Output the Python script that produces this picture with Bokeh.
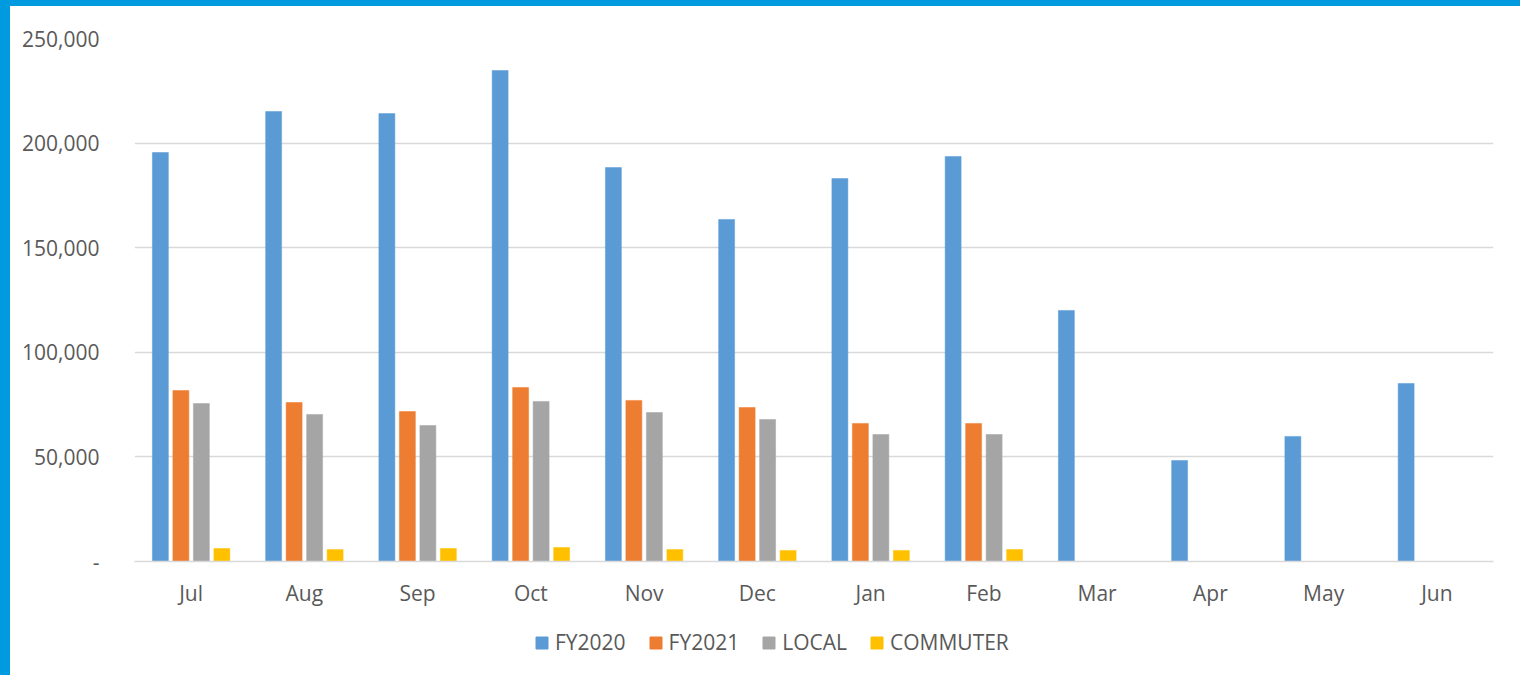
from bokeh.plotting import figure
from bokeh.models import ColumnDataSource, FactorRange, Legend, LegendItem, FixedTicker, Div, Range1d
from bokeh.layouts import column, row
from bokeh.transform import dodge
from bokeh.embed import file_html
from bokeh.resources import INLINE

months = ["Jul", "Aug", "Sep", "Oct", "Nov", "Dec", "Jan", "Feb", "Mar", "Apr", "May", "Jun"]
fy2020 = [195500, 215100, 214100, 234700, 188300, 163500, 183100, 193600, 120000, 48300, 59800, 85100]
fy2021 = [81700, 76000, 71700, 83200, 77000, 73600, 66000, 66000, 0, 0, 0, 0]
local = [75500, 70300, 65000, 76500, 71200, 67900, 60700, 60700, 0, 0, 0, 0]
commuter = [6200, 5700, 6200, 6700, 5700, 5300, 5300, 5700, 0, 0, 0, 0]
series_names = ["FY2020", "FY2021", "LOCAL", "COMMUTER"]
series_colors = ["#5B9BD5", "#ED7D31", "#A5A5A5", "#FFC000"]
y_ticks = [0, 50000, 100000, 150000, 200000, 250000]
y_tick_labels = ["-", "50,000", "100,000", "150,000", "200,000", "250,000"]

src = ColumnDataSource(dict(month=months, FY2020=fy2020, FY2021=fy2021, LOCAL=local, COMMUTER=commuter))

FONT = "Open Sans"
TXT = "#595959"
BLUE = "#009BDE"

p = figure(width=1510, height=609, x_range=FactorRange(*months, range_padding=0),
           y_range=(0, 250000), output_backend="svg", toolbar_location=None,
           min_border_left=124, min_border_right=27, min_border_top=32, min_border_bottom=54)
p.outline_line_color = None

offsets = [-0.2715, -0.0905, 0.0905, 0.2715]
for name, color, off in zip(series_names, series_colors, offsets):
    p.vbar(x=dodge("month", off, range=p.x_range), top=name, width=0.141, source=src,
           fill_color=color, line_color=color, line_width=0.5)

p.xgrid.grid_line_color = None
p.ygrid.grid_line_color = "#D9D9D9"
p.ygrid.grid_line_width = 1.3
p.yaxis.ticker = FixedTicker(ticks=y_ticks)
p.yaxis.major_label_overrides = {t: l for t, l in zip(y_ticks, y_tick_labels)}
p.yaxis.axis_line_color = None
p.yaxis.major_tick_line_color = None
p.yaxis.minor_tick_line_color = None
p.yaxis.major_label_standoff = 29
p.xaxis.axis_line_color = "#D9D9D9"
p.xaxis.axis_line_width = 1.5
p.xaxis.major_tick_line_color = None
p.xaxis.minor_tick_line_color = None
p.xaxis.major_label_standoff = 11
for ax in (p.xaxis, p.yaxis):
    ax.major_label_text_font = FONT
    ax.major_label_text_font_size = "21px"
    ax.major_label_text_color = TXT

# legend strip below the chart
lg = figure(width=1510, height=60, x_range=Range1d(0, 1), y_range=Range1d(0, 1),
            output_backend="svg", toolbar_location=None,
            min_border_left=0, min_border_right=0, min_border_top=0, min_border_bottom=0)
lg.outline_line_color = None
lg.axis.visible = False
lg.grid.visible = False
items = []
for name, color in zip(series_names, series_colors):
    r = lg.vbar(x=[5], top=[0], width=0.1, fill_color=color, line_color=color)
    items.append(LegendItem(label=name, renderers=[r]))
legend = Legend(items=items, orientation="horizontal", location=(400, 19),
                glyph_width=15, glyph_height=15, label_standoff=6, spacing=22,
                padding=0, margin=0, border_line_color=None, background_fill_alpha=0,
                label_text_font=FONT, label_text_font_size="21px", label_text_color=TXT)
lg.add_layout(legend, "center")

top_bar = Div(width=1520, height=6, margin=0, styles={"background-color": BLUE})
left_bar = Div(width=10, height=669, margin=0, styles={"background-color": BLUE})
layout = column(top_bar, row(left_bar, column(p, lg, spacing=0), spacing=0), spacing=0)

open("out.html", "w").write(file_html(layout, INLINE))
